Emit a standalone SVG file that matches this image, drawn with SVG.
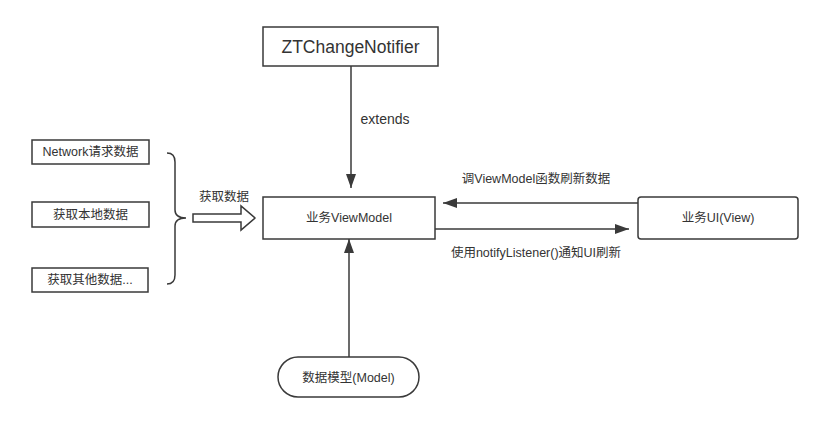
<svg xmlns="http://www.w3.org/2000/svg" width="830" height="434" viewBox="0 0 830 434">
<style>
.box{fill:#fff;stroke:#3a3a3a;stroke-width:1.5}
.t{font-family:"Liberation Sans","Noto Sans CJK SC",sans-serif;font-size:12.5px;fill:#333;text-anchor:middle;dominant-baseline:central}
.conn{fill:none;stroke:#3a3a3a;stroke-width:1.5}
</style>
<defs>
<marker id="ah" viewBox="0 0 10 10" refX="10" refY="5" markerWidth="10" markerHeight="10" markerUnits="userSpaceOnUse" orient="auto">
<path d="M0,0 L10,5 L0,10 Z" fill="#3a3a3a"/>
</marker>
<marker id="ahb" viewBox="0 0 14 10" refX="14" refY="5" markerWidth="14" markerHeight="10" markerUnits="userSpaceOnUse" orient="auto">
<path d="M0,0 L14,5 L0,10 Z" fill="#3a3a3a"/>
</marker>
</defs>
<rect width="830" height="434" fill="#fff"/>
<g id="n-notifier"><rect class="box" x="263" y="27" width="175" height="39"/><text class="t" x="350.5" y="47" style="font-size:17.5px">ZTChangeNotifier</text></g>
<g id="n-network"><rect class="box" x="32" y="140" width="117" height="24"/><text class="t" x="90.5" y="152">Network请求数据</text></g>
<g id="n-local"><rect class="box" x="32" y="202" width="117" height="25"/><text class="t" x="90.5" y="214.5">获取本地数据</text></g>
<g id="n-other"><rect class="box" x="32" y="268" width="116" height="24"/><text class="t" x="90" y="280">获取其他数据...</text></g>
<g id="n-viewmodel"><rect class="box" x="263" y="197" width="172" height="42"/><text class="t" x="349" y="218">业务ViewModel</text></g>
<g id="n-ui"><rect class="box" x="638" y="197" width="160" height="42" rx="3"/><text class="t" x="718" y="218">业务UI(View)</text></g>
<g id="n-model"><rect class="box" x="278" y="357" width="141" height="40" rx="20"/><text class="t" x="348.5" y="377.5">数据模型(Model)</text></g>
<g id="connectors">
<path class="conn" d="M351,66 L351,188" marker-end="url(#ahb)"/>
<text class="t" x="385" y="119" style="font-size:14px">extends</text>
<path class="conn" d="M638,203 L443,203" marker-end="url(#ahb)"/>
<text class="t" x="536" y="179">调ViewModel函数刷新数据</text>
<path class="conn" d="M435,229 L629,229" marker-end="url(#ahb)"/>
<text class="t" x="536" y="253">使用notifyListener()通知UI刷新</text>
<path class="conn" d="M349,357 L349,239" marker-end="url(#ahb)"/>
<path class="conn" d="M167,153 Q175,153 175,162 L175,210 Q175,218 186,218 Q175,218 175,226 L175,275 Q175,284 167,284"/>
<path class="conn" d="M193,214 L241,214 L241,206 L255,218 L241,230 L241,222 L193,222 Z" style="fill:#fff"/>
<text class="t" x="224" y="197">获取数据</text>
</g>
</svg>
